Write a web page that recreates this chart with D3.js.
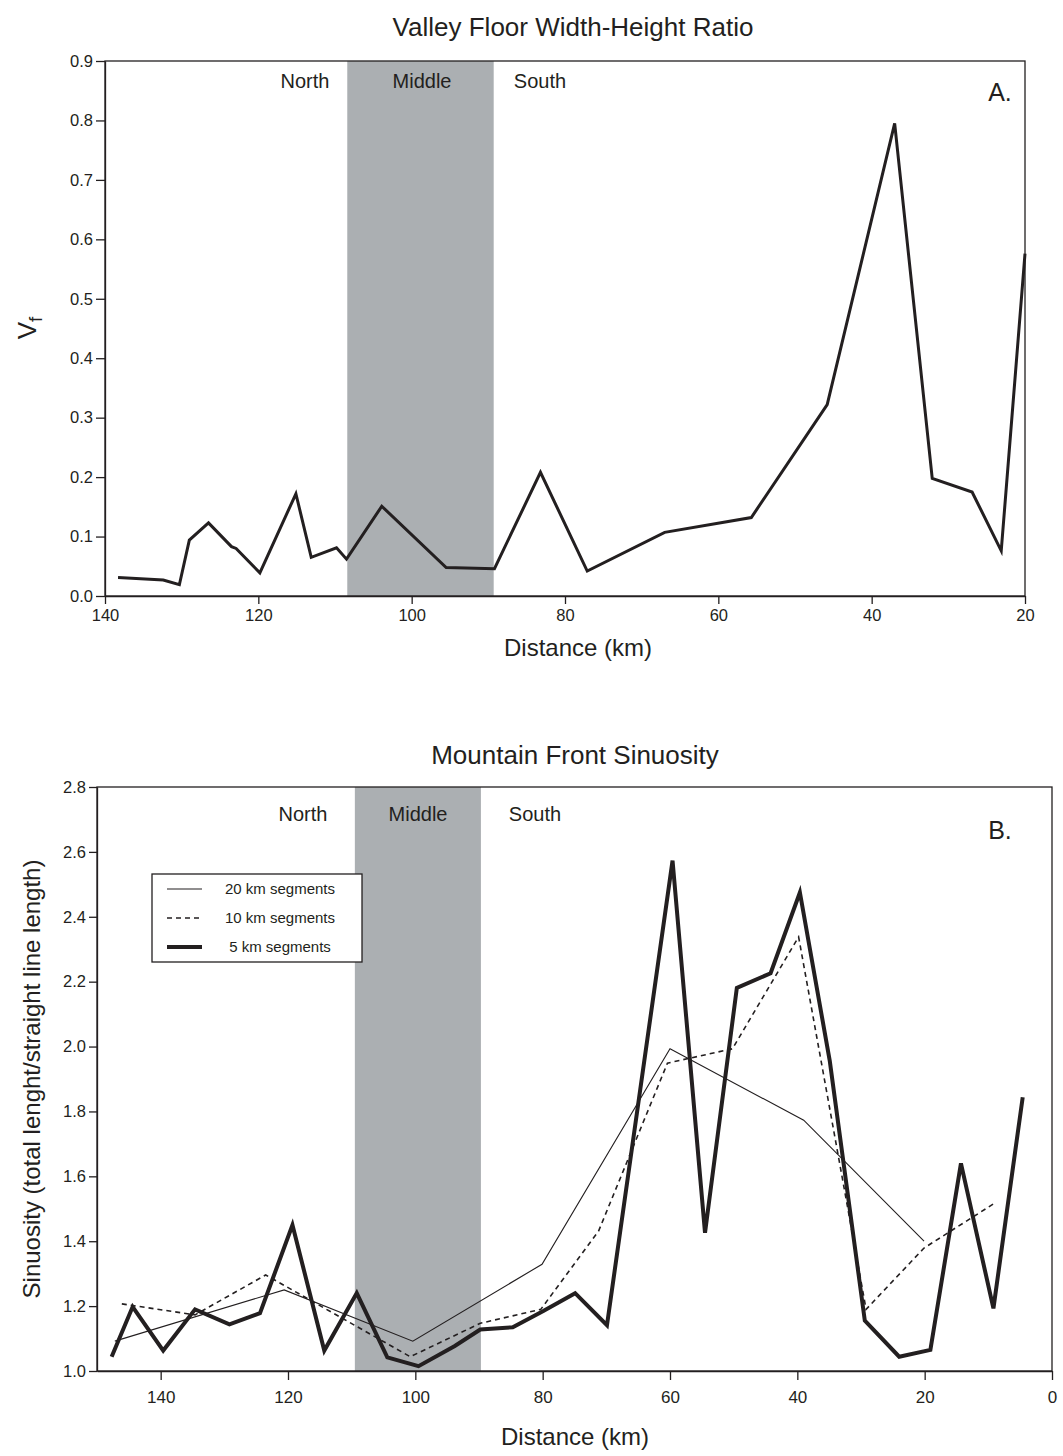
<!DOCTYPE html>
<html>
<head>
    <title>Valley Floor and Mountain Front</title>
    <script src="https://d3js.org/d3.v7.min.js"></script>
    <style>
        body { margin: 0; background: #fff; }
        text { font-family: "Liberation Sans", Arial, sans-serif; fill: #231f20; }
        .tick text { font-size: 16.5px; }
        .tick line, .domain { stroke: #231f20; stroke-width: 1.3px; }
    </style>
</head>
<body>
<script>
    // DATA

    // panel A: valley floor width-height ratio
    var vfKm = [138.3, 132.4, 130.3, 129.0, 126.5, 123.5, 122.9, 119.8, 115.1, 113.1, 109.8, 108.5, 103.9,
        95.5, 89.2, 83.2, 77.1, 67.0, 55.7, 45.8, 37.0, 32.1, 26.9, 23.1, 20]
    var vfVal = [0.031, 0.027, 0.019, 0.094, 0.123, 0.083, 0.080, 0.039, 0.172, 0.065, 0.081, 0.062, 0.151,
        0.048, 0.046, 0.208, 0.042, 0.107, 0.132, 0.322, 0.795, 0.198, 0.175, 0.076, 0.576]
    var vfTicksX = [140, 120, 100, 80, 60, 40, 20]
    var vfTicksY = [0, 0.1, 0.2, 0.3, 0.4, 0.5, 0.6, 0.7, 0.8, 0.9]
    var vfMiddle = [108.4, 89.3]

    // panel B: mountain front sinuosity
    var km20 = [147.2, 120.6, 100.4, 80.1, 60.0, 39.0, 20.1]
    var sin20 = [1.092, 1.25, 1.092, 1.329, 1.993, 1.773, 1.40]
    var km10 = [146.1, 134.6, 123.5, 100.8, 89.8, 80.3, 71.2, 60.4, 50.2, 39.8, 29.2, 20.1, 8.8]
    var sin10 = [1.207, 1.173, 1.296, 1.044, 1.147, 1.19, 1.432, 1.949, 1.993, 2.338, 1.19, 1.379, 1.52]
    var km5 = [147.7, 144.4, 139.6, 134.6, 129.2, 124.4, 119.3, 114.3, 109.2, 104.4, 99.5, 93.8, 89.8, 84.7,
        79.9, 74.9, 69.9, 59.6, 54.5, 49.5, 44.2, 39.6, 34.9, 29.4, 24.0, 19.1, 14.3, 9.2, 4.6]
    var sin5 = [1.044, 1.198, 1.063, 1.19, 1.144, 1.178, 1.45, 1.063, 1.24, 1.042, 1.015, 1.077, 1.128, 1.135,
        1.185, 1.24, 1.141, 2.573, 1.426, 2.181, 2.226, 2.475, 1.955, 1.155, 1.044, 1.065, 1.64, 1.193, 1.844]
    var sinTicksX = [140, 120, 100, 80, 60, 40, 20, 0]
    var sinTicksY = [1.0, 1.2, 1.4, 1.6, 1.8, 2.0, 2.2, 2.4, 2.6, 2.8]
    var sinMiddle = [109.5, 89.7]

    var regionNames = ['North', 'Middle', 'South']
    var legendNames = ['20 km segments', '10 km segments', '5 km segments']

    // GENERAL SETUP

    var ink = '#231f20'
    var shade = '#abafb2'

    var svg = d3.select('body').append('svg')
        .attr('width', 1063)
        .attr('height', 1456);

    function zip(xs, ys) {
        return xs.map(function (x, i) { return [x, ys[i]] })
    }

    // PANEL A

    var xA = d3.scaleLinear().domain([140, 20]).range([105, 1025])
    var yA = d3.scaleLinear().domain([0, 0.9]).range([596, 61])

    svg.append('rect')
        .attr('x', xA(vfMiddle[0])).attr('y', yA(0.9))
        .attr('width', xA(vfMiddle[1]) - xA(vfMiddle[0]))
        .attr('height', yA(0) - yA(0.9))
        .style('fill', shade)

    svg.append('path')
        .attr('d', d3.line().x(d => xA(d[0])).y(d => yA(d[1]))(zip(vfKm, vfVal)))
        .style('fill', 'none').style('stroke', ink).style('stroke-width', 3)
        .style('stroke-linejoin', 'miter')

    svg.append('rect')
        .attr('x', 105).attr('y', 61).attr('width', 920).attr('height', 535)
        .style('fill', 'none').style('stroke', ink).style('stroke-width', 1.3)

    svg.append('g').attr('transform', 'translate(0,596)')
        .call(d3.axisBottom(xA).tickValues(vfTicksX).tickSize(8).tickSizeOuter(0).tickFormat(d3.format('d')))
        .call(g => g.selectAll('.tick text').attr('dy', '0.85em'))
    svg.append('g').attr('transform', 'translate(105,0)')
        .call(d3.axisLeft(yA).tickValues(vfTicksY).tickSize(9).tickSizeOuter(0).tickFormat(d3.format('.1f')))

    svg.append('text').attr('x', 573).attr('y', 36).attr('text-anchor', 'middle')
        .style('font-size', '26px').text('Valley Floor Width-Height Ratio')
    svg.append('text').attr('x', 578).attr('y', 656).attr('text-anchor', 'middle')
        .style('font-size', '24px').text('Distance (km)')
    var vfLabel = svg.append('text').attr('transform', 'translate(36,328) rotate(-90)')
        .attr('text-anchor', 'middle').style('font-size', '26px')
    vfLabel.append('tspan').text('V')
    vfLabel.append('tspan').attr('dy', 6).style('font-size', '19px').text('f')

    var regionXA = [305, 422, 540]
    regionNames.forEach(function (name, i) {
        svg.append('text').attr('x', regionXA[i]).attr('y', 88).attr('text-anchor', 'middle')
            .style('font-size', '20px').text(name)
    })
    svg.append('text').attr('x', 1000).attr('y', 101).attr('text-anchor', 'middle')
        .style('font-size', '25px').text('A.')

    // PANEL B

    var xB = d3.scaleLinear().domain([150, 0]).range([97, 1052])
    var yB = d3.scaleLinear().domain([1.0, 2.8]).range([1371, 787])

    svg.append('rect')
        .attr('x', xB(sinMiddle[0])).attr('y', yB(2.8))
        .attr('width', xB(sinMiddle[1]) - xB(sinMiddle[0]))
        .attr('height', yB(1.0) - yB(2.8))
        .style('fill', shade)

    var lineB = d3.line().x(d => xB(d[0])).y(d => yB(d[1]))
    var seriesB = [
        { pts: zip(km20, sin20), width: 1.1, dash: null },
        { pts: zip(km10, sin10), width: 1.6, dash: '5,4' },
        { pts: zip(km5, sin5), width: 4, dash: null }
    ]
    seriesB.forEach(function (s) {
        svg.append('path')
            .attr('d', lineB(s.pts))
            .style('fill', 'none').style('stroke', ink)
            .style('stroke-width', s.width)
            .style('stroke-dasharray', s.dash)
    })

    svg.append('rect')
        .attr('x', 97).attr('y', 787).attr('width', 955).attr('height', 584)
        .style('fill', 'none').style('stroke', ink).style('stroke-width', 1.3)

    svg.append('g').attr('transform', 'translate(0,1371)')
        .call(d3.axisBottom(xB).tickValues(sinTicksX).tickSize(9).tickSizeOuter(0).tickFormat(d3.format('d')))
        .call(g => g.selectAll('.tick text').attr('dy', '1.15em').style('font-size', '17px'))
    svg.append('g').attr('transform', 'translate(97,0)')
        .call(d3.axisLeft(yB).tickValues(sinTicksY).tickSize(8).tickSizeOuter(0).tickFormat(d3.format('.1f')))

    svg.append('text').attr('x', 575).attr('y', 764).attr('text-anchor', 'middle')
        .style('font-size', '26px').text('Mountain Front Sinuosity')
    svg.append('text').attr('x', 575).attr('y', 1445).attr('text-anchor', 'middle')
        .style('font-size', '24px').text('Distance (km)')
    svg.append('text').attr('transform', 'translate(40,1079) rotate(-90)')
        .attr('text-anchor', 'middle').style('font-size', '24px')
        .text('Sinuosity (total lenght/straight line length)')

    var regionXB = [303, 418, 535]
    regionNames.forEach(function (name, i) {
        svg.append('text').attr('x', regionXB[i]).attr('y', 821).attr('text-anchor', 'middle')
            .style('font-size', '20px').text(name)
    })
    svg.append('text').attr('x', 1000).attr('y', 839).attr('text-anchor', 'middle')
        .style('font-size', '25px').text('B.')

    // legend
    var legend = svg.append('g').attr('transform', 'translate(152,874)')
    legend.append('rect').attr('width', 210).attr('height', 88)
        .style('fill', '#fff').style('stroke', ink).style('stroke-width', 1.3)
    legendNames.forEach(function (name, i) {
        var ly = 15 + i * 29
        legend.append('line').attr('x1', 15).attr('x2', 50).attr('y1', ly).attr('y2', ly)
            .style('stroke', ink).style('stroke-width', seriesB[i].width)
            .style('stroke-dasharray', seriesB[i].dash)
        legend.append('text').attr('x', 128).attr('y', ly + 5).attr('text-anchor', 'middle')
            .style('font-size', '15px').text(name)
    })
</script>
</body>
</html>
